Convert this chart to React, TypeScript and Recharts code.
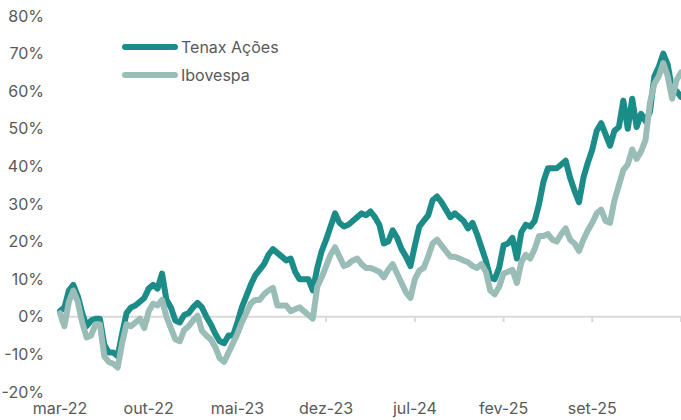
import React from 'react';
import { LineChart, Line, XAxis, YAxis, ReferenceLine } from 'recharts';

const FONT = "Inter, 'Open Sans', sans-serif";
const TEXT = '#595959';

const seriesNames = ['Tenax Ações', 'Ibovespa'];
const seriesColors = ['#1b8c88', '#9bbdb7'];

const xLabels = ['mar-22', 'out-22', 'mai-23', 'dez-23', 'jul-24', 'fev-25', 'set-25'];
const labelIdx = [0, 20, 40, 60, 80, 100, 120];
const tickMarkIdx = [0, 20, 40, 60, 80, 100, 120, 140];
const yTicks = [-20, -10, 0, 10, 20, 30, 40, 50, 60, 70, 80];

const tenax = [
  1.5, 2.5, 7, 8.5, 5.5, 1, -2.5, -1, -0.5, -0.5,
  -7.5, -9.5, -9.5, -10.5, -4.5, 1, 2.5, 3, 4, 5,
  7.5, 8.5, 7.5, 11.5, 4.5, 2.5, -1, -1.5, 0.5, 1,
  2.5, 3.7, 2.5, 0, -2, -4.5, -6.5, -7, -5, -5,
  -1.5, 2.5, 5.5, 8.5, 11, 12.5, 14, 16.5, 18, 17,
  16, 15, 15.5, 12, 10, 10, 10, 7, 13, 17.5,
  20.5, 24, 27.5, 25, 24, 24.5, 25.5, 26.5, 27.5, 27,
  28, 26.5, 24.5, 19.5, 20, 23, 21, 18, 16, 13.5,
  19, 24, 25.5, 27, 31, 32, 30.5, 28.5, 26.5, 27.5,
  26.5, 25.5, 23.5, 25, 22, 18.5, 15, 10.5, 10, 13,
  19, 19.5, 21, 15.5, 22.5, 24.5, 24, 25.5, 30, 36,
  39.5, 39.5, 39.5, 40.5, 41.5, 37, 33.5, 30.5, 37, 41,
  44.5, 49.5, 51.5, 48.5, 45.5, 49.5, 50.5, 57.5, 50, 58,
  50.5, 54, 52, 54.5, 64, 66.5, 70, 67, 60.5, 60,
  58.5,
];

const ibov = [
  1, -2.5, 4, 7, 4, -1.5, -5.5, -5, -2, -2,
  -10.5, -12, -12.5, -13.5, -7, -2, -2.5, -1.5, -0.5, -3,
  1.5, 3.5, 3, 4.5, 0, -3, -6, -6.5, -3.5, -2.5,
  -1, 0.3, -3.7, -5, -6, -8, -11, -12, -9.5, -7,
  -4.5, -1.5, 1, 3.5, 4.5, 4.5, 6, 7, 7.7, 3,
  3, 3, 1.5, 2, 2.5, 1.5, 0.5, -0.5, 8, 10.5,
  13.5, 16.5, 18.5, 16, 13.5, 14, 15, 15.5, 14, 13,
  13, 12.5, 12, 10.5, 12.5, 14, 11.5, 9, 6.5, 5,
  10, 12.3, 13, 16, 19.5, 20.5, 19, 17.5, 16, 16,
  15.5, 15, 14.5, 13.5, 13, 14, 12, 7, 6, 8,
  11.5, 12, 12.5, 9, 14.5, 16.5, 15.5, 18, 21.5, 21.5,
  22, 20.5, 20, 22, 23.5, 20.5, 19.5, 17.5, 20.5, 23,
  25, 27.5, 28.5, 25.5, 25, 31, 35, 39, 40.5, 44.5,
  42, 44, 47, 57, 62, 64, 67.5, 64, 58, 63,
  65,
];

const data = tenax.map((t, i) => ({ i, tenax: t, ibov: ibov[i] }));

const fmtX = (v: number) => {
  const k = labelIdx.indexOf(v);
  return k >= 0 ? xLabels[k] : '';
};

export default function App() {
  return (
    <div style={{ position: 'absolute', left: 0, top: 0, width: 681, height: 420, background: '#fff' }}>
      <LineChart
        width={681}
        height={420}
        data={data}
        margin={{ top: 16, right: 0, bottom: 0, left: 0 }}
      >
        <XAxis
          dataKey="i"
          type="number"
          domain={[0, 140]}
          ticks={labelIdx}
          interval={0}
          tickFormatter={fmtX}
          axisLine={false}
          tickLine={false}
          height={28}
          tickSize={6}
          tickMargin={5}
          tick={{ fill: TEXT, fontSize: 16, fontFamily: FONT }}
        />
        <YAxis
          type="number"
          domain={[-20, 80]}
          ticks={yTicks}
          interval={0}
          tickFormatter={(v: number) => `${v}%`}
          axisLine={false}
          tickLine={false}
          width={60}
          tickSize={6}
          tickMargin={10}
          tick={{ fill: TEXT, fontSize: 16, fontFamily: FONT }}
        />
        <ReferenceLine y={0} stroke="#d9d9d9" strokeWidth={2} />
        {tickMarkIdx.map((t) => (
          <ReferenceLine
            key={t}
            segment={[{ x: t, y: 0 }, { x: t, y: -1.4 }]}
            stroke="#d9d9d9"
            strokeWidth={2}
          />
        ))}
        <Line
          type="linear"
          dataKey="tenax"
          name={seriesNames[0]}
          stroke={seriesColors[0]}
          strokeWidth={6}
          strokeLinejoin="round"
          strokeLinecap="round"
          dot={false}
          isAnimationActive={false}
        />
        <Line
          type="linear"
          dataKey="ibov"
          name={seriesNames[1]}
          stroke={seriesColors[1]}
          strokeWidth={6}
          strokeLinejoin="round"
          strokeLinecap="round"
          dot={false}
          isAnimationActive={false}
        />
      </LineChart>
      <div
        style={{
          position: 'absolute',
          left: 122,
          top: 33,
          fontFamily: FONT,
          fontSize: 16,
          color: TEXT,
        }}
      >
        {seriesNames.map((n, k) => (
          <div key={n} style={{ display: 'flex', alignItems: 'center', height: 28 }}>
            <span
              style={{
                display: 'inline-block',
                width: 56,
                height: 6,
                borderRadius: 3,
                background: seriesColors[k],
                marginRight: 3,
              }}
            />
            <span>{n}</span>
          </div>
        ))}
      </div>
    </div>
  );
}
